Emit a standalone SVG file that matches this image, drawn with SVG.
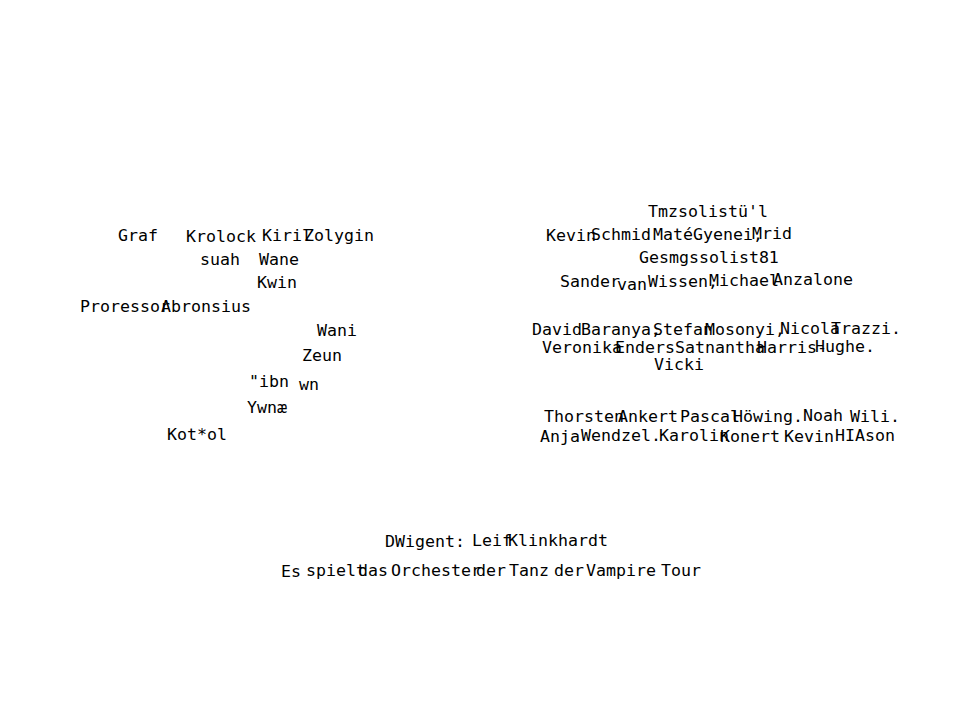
<svg xmlns="http://www.w3.org/2000/svg" width="960" height="720" viewBox="0 0 960 720">
<style>
text{font-family:"DejaVu Sans Mono","Liberation Mono",monospace;font-size:16.6px;fill:#000}
</style>
<rect width="960" height="720" fill="#fff"/>
<g id="cast">
<text x="118" y="241">Graf</text>
<text x="186" y="242">Krolock</text>
<text x="262" y="241">Kiril</text>
<text x="304" y="241">Zolygin</text>
<text x="200" y="265">suah</text>
<text x="259" y="265">Wane</text>
<text x="257" y="288">Kwin</text>
<text x="80" y="312">Proressor</text>
<text x="161" y="312">Abronsius</text>
<text x="317" y="336">Wani</text>
<text x="302" y="361">Zeun</text>
<text x="249" y="387">"ibn</text>
<text x="299" y="390">wn</text>
<text x="247" y="413">Ywnæ</text>
<text x="167" y="440">Kot*ol</text>
</g>
<g id="solists">
<text x="648" y="217">Tmzsolistü'l</text>
<text x="546" y="241">Kevin</text>
<text x="591" y="240">Schmid</text>
<text x="653" y="240">Maté</text>
<text x="693" y="240">Gyenei,</text>
<text x="752" y="239">Mrid</text>
<text x="639" y="263">Gesmgssolist81</text>
<text x="560" y="287">Sander</text>
<text x="617" y="290">van</text>
<text x="648" y="287">Wissen,</text>
<text x="709" y="286">Michael</text>
<text x="773" y="285">Anzalone</text>
<text x="532" y="335">David</text>
<text x="581" y="335">Baranya,</text>
<text x="653" y="335">Stefan</text>
<text x="705" y="335">Mosonyi,</text>
<text x="780" y="334">Nicola</text>
<text x="831" y="334">Trazzi.</text>
<text x="542" y="353">Veronika</text>
<text x="615" y="353">Enders</text>
<text x="675" y="353">Satnantha</text>
<text x="757" y="353">Harris-</text>
<text x="815" y="352">Hughe.</text>
<text x="654" y="370">Vicki</text>
<text x="544" y="422">Thorsten</text>
<text x="618" y="422">Ankert</text>
<text x="680" y="422">Pascal</text>
<text x="733" y="422">Höwing.</text>
<text x="803" y="421">Noah</text>
<text x="850" y="422">Wili.</text>
<text x="540" y="442">Anja</text>
<text x="581" y="441">Wendzel.</text>
<text x="659" y="441">Karolin</text>
<text x="720" y="442">Konert</text>
<text x="784" y="442">Kevin</text>
<text x="835" y="441">HIAson</text>
</g>
<g id="orchestra">
<text x="385" y="547">DWigent:</text>
<text x="472" y="546">Leif</text>
<text x="508" y="546">Klinkhardt</text>
<text x="281" y="577">Es</text>
<text x="306" y="576">spielt</text>
<text x="358" y="576">das</text>
<text x="391" y="576">Orchester</text>
<text x="476" y="576">der</text>
<text x="509" y="576">Tanz</text>
<text x="554" y="576">der</text>
<text x="586" y="576">Vampire</text>
<text x="661" y="576">Tour</text>
</g>
<g id="connectors"/>
</svg>
